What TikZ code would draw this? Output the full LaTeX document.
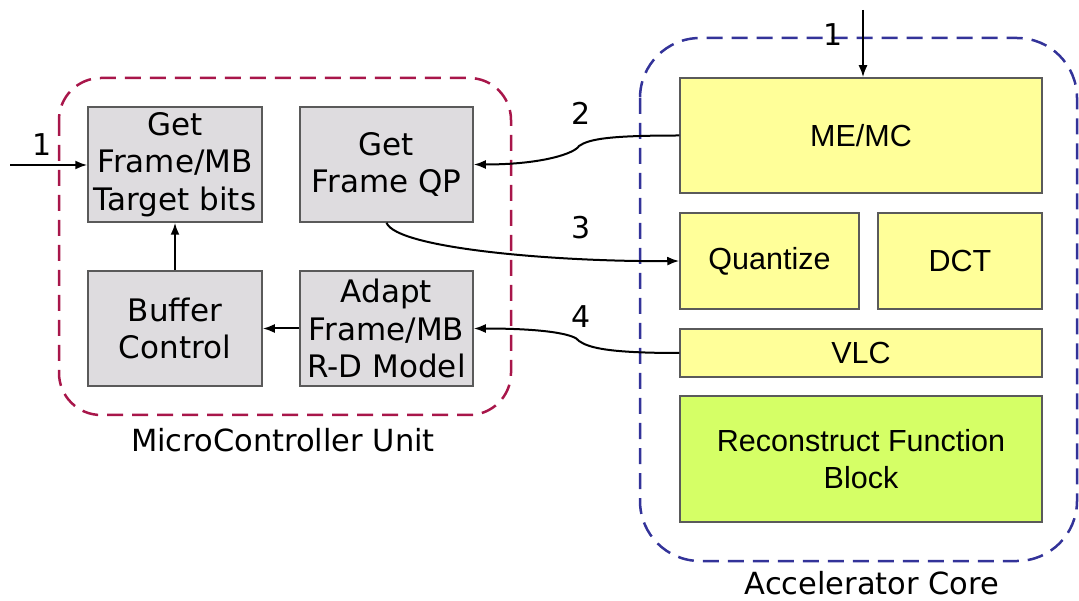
\documentclass[tikz,border=0pt]{standalone}
\usepackage{fontspec}
\setmainfont{DejaVu Sans}
\newfontfamily\arialfont{Liberation Sans}
\usetikzlibrary{arrows.meta}
\definecolor{boxgray}{HTML}{DEDCDF}
\definecolor{boxedge}{HTML}{5A5A5A}
\definecolor{accyellow}{HTML}{FFFF99}
\definecolor{accgreen}{HTML}{D5FF66}
\definecolor{mculine}{HTML}{A8164A}
\definecolor{accline}{HTML}{333399}
\tikzset{
  mcubox/.style={draw=boxedge, line width=1.5pt, fill=boxgray, align=center,
    inner sep=0pt, font=\fontsize{31}{37.5}\selectfont},
  accbox/.style={draw=boxedge, line width=1.5pt, fill=accyellow, align=center,
    inner sep=0pt, font=\arialfont\fontsize{30.5}{37}\selectfont},
  numlabel/.style={font=\fontsize{30}{34}\selectfont, inner sep=0pt},
  unitlabel/.style={font=\fontsize{30.5}{35}\selectfont, inner sep=0pt},
  conn/.style={line width=2pt, -{Latex[length=12pt,width=9pt]}},
  region/.style={line width=2.5pt, dash pattern=on 16pt off 9pt, rounded corners=#1},
}
\begin{document}
\begin{tikzpicture}[x=1pt,y=-1pt]
  \useasboundingbox (0,0) rectangle (1079,601);

  % dashed regions
  \draw[region=42pt, mculine] (59,78) rectangle (511,415);
  \draw[region=60pt, accline] (640,38) rectangle (1077,561);

  % microcontroller blocks
  \node[mcubox, minimum width=174pt, minimum height=115pt] (gmb) at (175,164.5) {Get\\Frame/MB\\Target bits};
  \node[mcubox, minimum width=173pt, minimum height=115pt] (gqp) at (386.5,164.5) {Get\\Frame QP};
  \node[mcubox, minimum width=174pt, minimum height=115pt] (buf) at (175,328.5) {Buffer\\Control};
  \node[mcubox, minimum width=173pt, minimum height=115pt] (adp) at (386.5,328.5) {Adapt\\Frame/MB\\R-D Model};

  % accelerator blocks
  \node[accbox, minimum width=362pt, minimum height=115pt] (mem) at (861,135.5) {ME/MC};
  \node[accbox, minimum width=179pt, minimum height=96pt] (qnt) at (769.5,261) {Quantize};
  \node[accbox, minimum width=164pt, minimum height=96pt] (dct) at (960,261) {DCT};
  \node[accbox, minimum width=362pt, minimum height=48pt] (vlc) at (861,353) {VLC};
  \node[accbox, fill=accgreen, minimum width=362pt, minimum height=126pt] (rec) at (861,459) {Reconstruct Function\\Block};

  % region captions
  \node[unitlabel] (mculbl) at (283,440) {MicroController Unit};
  \node[unitlabel] (acclbl) at (872,583) {Accelerator Core};

  % step numbers
  \node[numlabel] (n1a) at (42,145) {1};
  \node[numlabel] (n1b) at (833,35) {1};
  \node[numlabel] (n2) at (581,113) {2};
  \node[numlabel] (n3) at (581,228) {3};
  \node[numlabel] (n4) at (581,317) {4};

  % inputs
  \coordinate (inL) at (10,165);
  \coordinate (inT) at (863,10);
  \draw[conn] (inL) -- (gmb.west |- inL);
  \draw[conn] (inT) -- (inT |- mem.north);

  % internal flow
  \draw[conn] (buf.north) -- (gmb.south);
  \draw[conn] (adp.west) -- (buf.east);

  % exchanges between the two units
  \coordinate (k2) at (579,146);
  \coordinate (k4) at (579,341);
  \draw[conn] (mem.west) .. controls +(-70,0) and +(10,-7) .. (k2)
                          .. controls +(-4,7) and +(70,0) .. (gqp.east);
  \draw[conn] (gqp.south) .. controls +(10,26) and +(-120,1) .. (qnt.west);
  \draw[conn] (vlc.west) .. controls +(-70,0) and +(10,7) .. (k4)
                          .. controls +(-4,-7) and +(70,0) .. (adp.east);
\end{tikzpicture}
\end{document}
